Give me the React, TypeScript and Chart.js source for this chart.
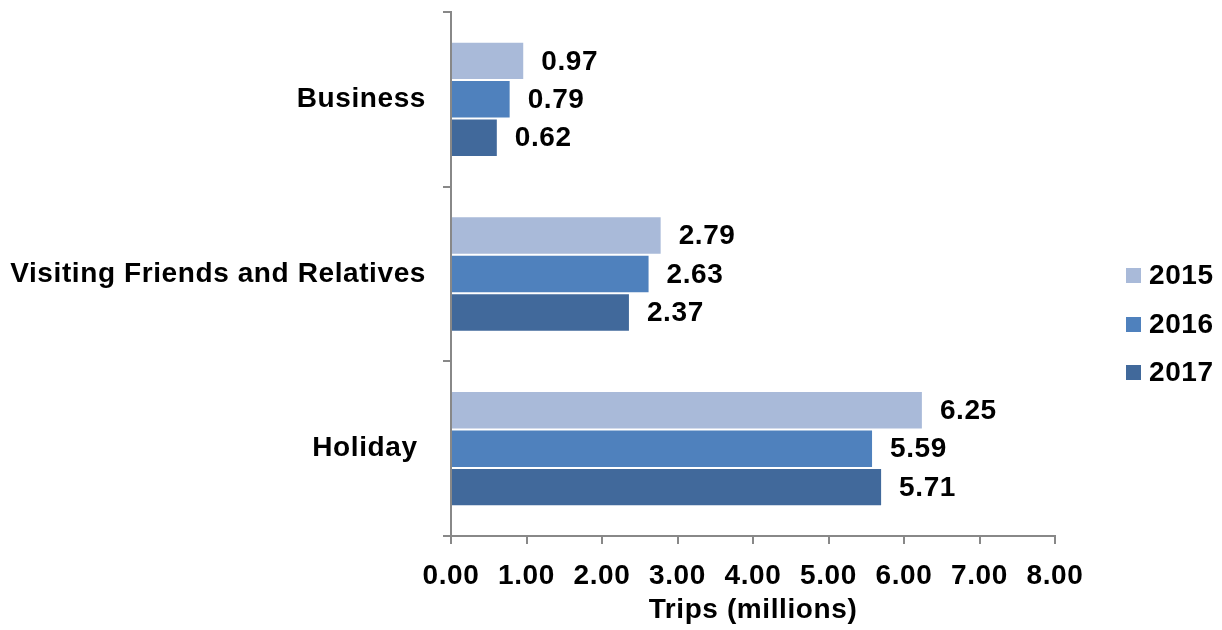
import React, { useEffect, useRef } from "react";
import { Chart, registerables } from "chart.js";

Chart.register(...registerables);

const categories = ["Business", "Visiting Friends and Relatives", "Holiday "];
const seriesNames = ["2015", "2016", "2017"];
const values2015 = [0.97, 2.79, 6.25];
const values2016 = [0.79, 2.63, 5.59];
const values2017 = [0.62, 2.37, 5.71];
const seriesColors = ["#A9BAD9", "#4F81BD", "#41699B"];
const xTicks = ["0.00", "1.00", "2.00", "3.00", "4.00", "5.00", "6.00", "7.00", "8.00"];

const FONT = "Arial, 'Liberation Sans', sans-serif";
const FS = 28;
const SPACING = "0.6px";

const spacingPlugin = {
  id: "letterSpacing",
  beforeLayout(chart: any) {
    (chart.ctx as any).letterSpacing = SPACING;
  },
  beforeDraw(chart: any) {
    (chart.ctx as any).letterSpacing = SPACING;
  },
};

const labelPlugin = {
  id: "valueLabels",
  afterDatasetsDraw(chart: any) {
    const ctx = chart.ctx;
    ctx.save();
    (ctx as any).letterSpacing = SPACING;
    ctx.font = `bold ${FS}px ${FONT}`;
    ctx.fillStyle = "#000";
    ctx.textAlign = "left";
    ctx.textBaseline = "middle";
    chart.data.datasets.forEach((ds: any, di: number) => {
      const meta = chart.getDatasetMeta(di);
      meta.data.forEach((bar: any, i: number) => {
        ctx.fillText(Number(ds.data[i]).toFixed(2), bar.x + 17, bar.y + 1);
      });
    });
    ctx.restore();
  },
};

const legendPlugin = {
  id: "customLegend",
  afterDraw(chart: any) {
    const ctx = chart.ctx;
    ctx.save();
    (ctx as any).letterSpacing = SPACING;
    ctx.font = `bold ${FS}px ${FONT}`;
    ctx.textAlign = "left";
    ctx.textBaseline = "middle";
    seriesNames.forEach((name, i) => {
      const cy = Math.round(275 + i * 48.5);
      ctx.fillStyle = seriesColors[i];
      ctx.fillRect(1126, cy - 7, 15, 15);
      ctx.fillStyle = "#000";
      ctx.fillText(name, 1149, cy + 1);
    });
    ctx.restore();
  },
};

export default function App() {
  const ref = useRef<HTMLCanvasElement | null>(null);
  useEffect(() => {
    document.body.style.margin = "0";
    const seriesValues = [values2015, values2016, values2017];
    const chart = new Chart(ref.current as HTMLCanvasElement, {
      type: "bar",
      data: {
        labels: categories,
        datasets: seriesNames.map((n, i) => ({
          label: n,
          data: seriesValues[i],
          backgroundColor: seriesColors[i],
          borderColor: "rgba(255,255,255,0.35)",
          borderWidth: 1,
          categoryPercentage: 0.66,
          barPercentage: 1,
        })),
      },
      options: {
        indexAxis: "y",
        animation: false,
        responsive: false,
        layout: { padding: { top: 12, right: 167, left: 0, bottom: 0 } },
        plugins: { legend: { display: false }, tooltip: { enabled: false } },
        scales: {
          x: {
            min: 0,
            max: 8,
            ticks: {
              stepSize: 1,
              padding: 15,
              color: "#000",
              font: { family: FONT, size: FS, weight: "bold" },
              callback: (v: any, i: number) => xTicks[i] ?? Number(v).toFixed(2),
            },
            grid: { drawOnChartArea: false, drawTicks: true, tickLength: 8, color: "#888", lineWidth: 2 },
            border: { color: "#888", width: 2 },
            title: {
              display: true,
              text: "Trips (millions)",
              color: "#000",
              font: { family: FONT, size: FS, weight: "bold" },
              padding: { top: 2, bottom: 3 },
            },
            afterFit: (s: any) => {
              s.height = 94;
              s.paddingLeft = 0;
              s.paddingRight = 0;
            },
          },
          y: {
            ticks: {
              padding: 17,
              color: "#000",
              font: { family: FONT, size: FS, weight: "bold" },
            },
            grid: { drawOnChartArea: false, drawTicks: true, tickLength: 8, color: "#888", lineWidth: 2, offset: true },
            border: { color: "#888", width: 2 },
            afterFit: (s: any) => {
              s.width = 451;
              s.paddingTop = 0;
              s.paddingBottom = 0;
            },
          },
        },
      },
      plugins: [spacingPlugin, labelPlugin, legendPlugin],
    } as any);
    return () => chart.destroy();
  }, []);
  return (
    <div style={{ width: 1222, height: 630 }}>
      <canvas ref={ref} width={1222} height={630} style={{ display: "block" }} />
    </div>
  );
}
